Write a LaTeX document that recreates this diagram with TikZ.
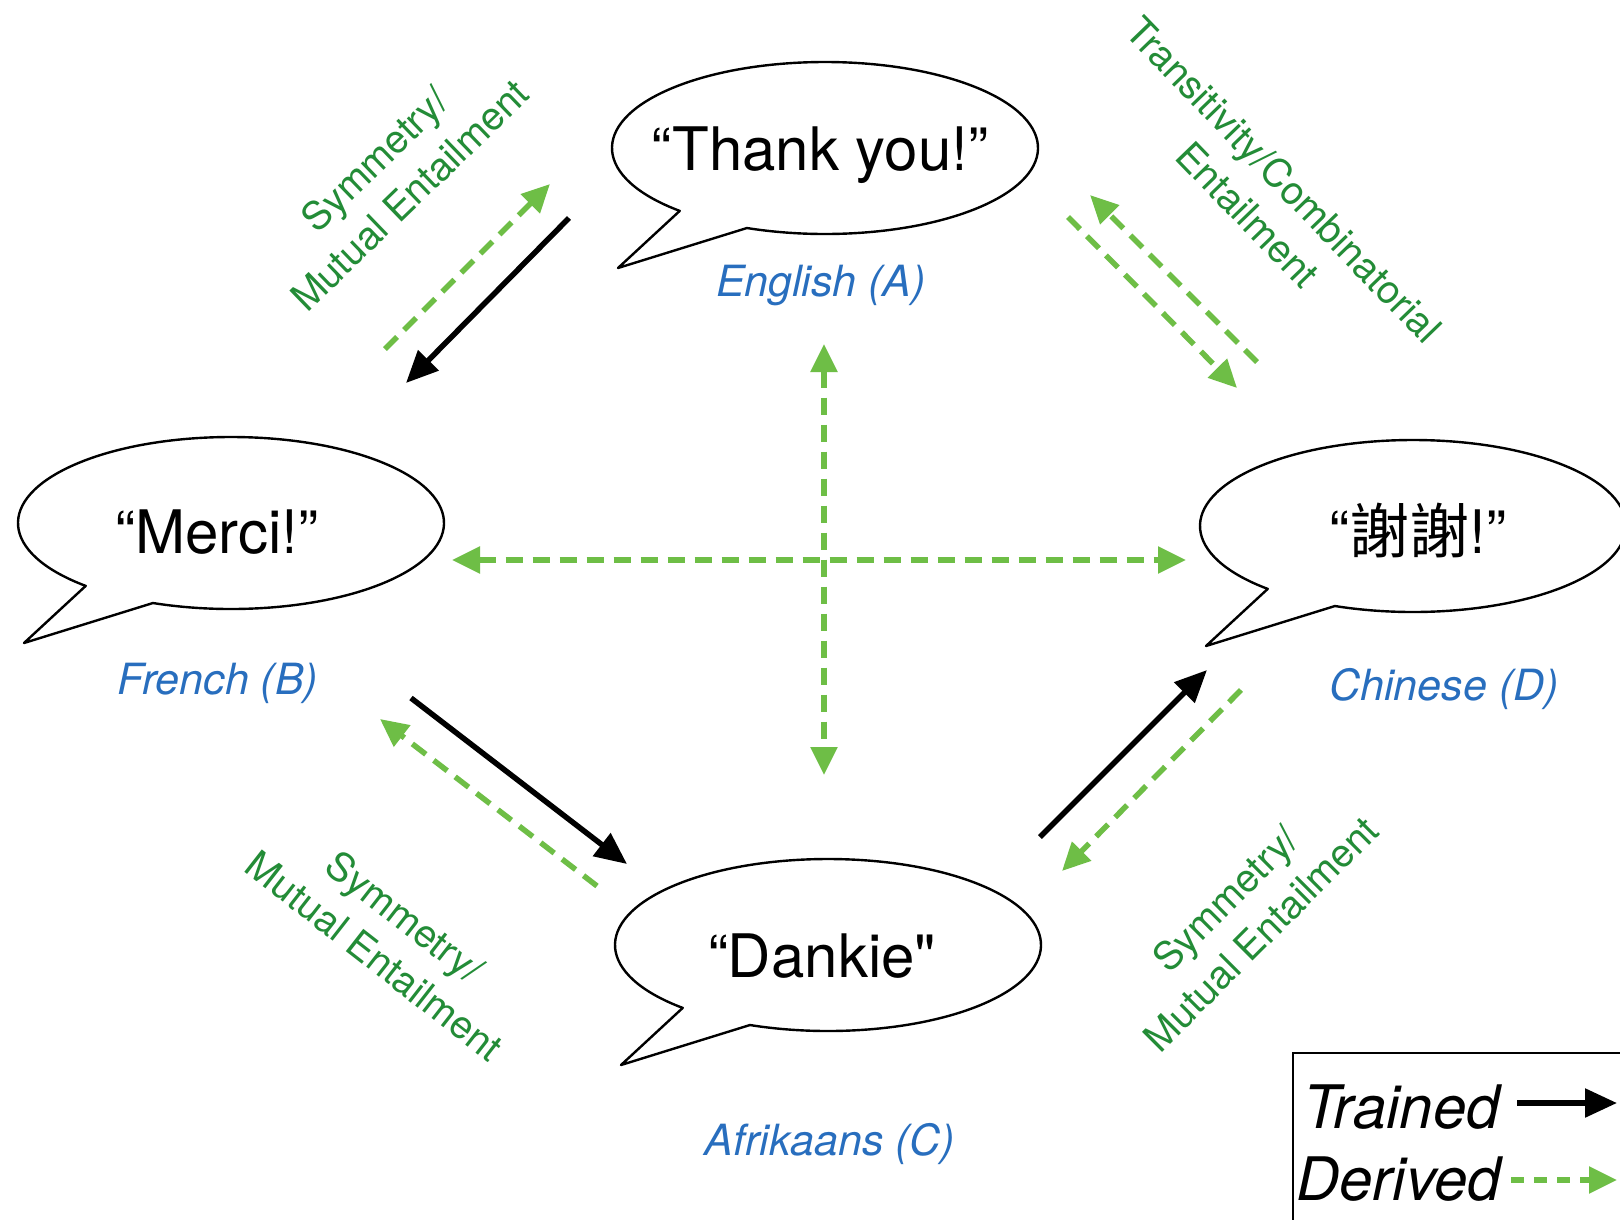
\documentclass[tikz,border=0pt]{standalone}
\usepackage{fontspec}
\setmainfont{TeX Gyre Heros}
\newfontfamily\cjkfont{Noto Sans CJK TC}
\usetikzlibrary{arrows.meta}
\definecolor{labelblue}{RGB}{40,110,190}
\definecolor{rulegreen}{RGB}{35,140,55}
\definecolor{derivedgreen}{RGB}{110,190,70}
\newcommand{\straightquote}{{\addfontfeature{Ligatures=TeXOff}"}}

\begin{document}
\begin{tikzpicture}[x=1pt,y=-1pt,
  bubbleline/.style={line width=2.4pt, line join=round, fill=white},
  phrase/.style={font=\fontsize{60}{62}\selectfont, inner sep=0pt, anchor=base},
  lang/.style={font=\fontsize{43}{46}\selectfont\itshape, text=labelblue, inner sep=0pt},
  rulelabel/.style={font=\fontsize{39}{50}\selectfont, text=rulegreen, align=center, inner sep=0pt},
  trained/.style={line width=5.5pt, -{Triangle[length=32pt,width=28pt]}},
  derived/.style={line width=5.5pt, derivedgreen, dash pattern=on 17pt off 10pt, -{Triangle[length=28pt,width=26pt]}},
  derivedboth/.style={derived, {Triangle[length=28pt,width=26pt]}-{Triangle[length=28pt,width=26pt]}},
  legendtext/.style={font=\fontsize{60}{62}\selectfont\itshape, inner sep=0pt, anchor=base west},
  bubble/.pic={\draw[bubbleline] (-207,120) -- ({213*cos(133)},{86*sin(133)})
      arc[start angle=133, end angle=471.5, x radius=213, y radius=86] -- cycle;}
]
\fill[white] (0,0) rectangle (1620,1219);
\clip (0,0) rectangle (1620,1219);

% speech bubbles
\pic at (825,148) {bubble};
\pic at (231,523) {bubble};
\pic at (1413,526) {bubble};
\pic at (828,945) {bubble};

% phrases
\node[phrase] (thanks) at (820,170) {“Thank you!”};
\node[phrase] (merci) at (217,553) {“Merci!”};
\node[phrase] (xiexie) at (1418,553) {“{\cjkfont 謝謝}!”};
\node[phrase] (dankie) at (822,977) {“Dankie\straightquote};

% languages
\node[lang] (english) at (821,286) {English (A)};
\node[lang] (french) at (218,683) {French (B)};
\node[lang] (chinese) at (1444,689) {Chinese (D)};
\node[lang] (afrikaans) at (830,1144) {Afrikaans (C)};

% relation names
\node[rulelabel, rotate=44] (symAB) at (392,177) {Symmetry/\\Mutual Entailment};
\node[rulelabel, rotate=-46] (transAD) at (1266,197) {Transitivity/Combinatorial\\Entailment};
\node[rulelabel, rotate=-38] (symBC) at (390,936) {Symmetry/\\Mutual Entailment};
\node[rulelabel, rotate=45] (symCD) at (1243,916) {Symmetry/\\Mutual Entailment};

% end points of the relations
\coordinate (abT0) at (569,218);  \coordinate (abT1) at (406,383);
\coordinate (abD0) at (385,349);  \coordinate (abD1) at (550,184);
\coordinate (bcT0) at (411,698);  \coordinate (bcT1) at (627,864);
\coordinate (bcD0) at (597,886);  \coordinate (bcD1) at (380,719);
\coordinate (cdT0) at (1040,837); \coordinate (cdT1) at (1207,670);
\coordinate (cdD0) at (1241,690); \coordinate (cdD1) at (1062,871);
\coordinate (adD0) at (1068,217); \coordinate (adD1) at (1237,388);
\coordinate (daD0) at (1257,362); \coordinate (daD1) at (1090,195);
\coordinate (acTop) at (824,344); \coordinate (acBot) at (824,775);
\coordinate (bdLeft) at (452,560); \coordinate (bdRight) at (1186,560);

% trained relations
\draw[trained] (abT0) -- (abT1);
\draw[trained] (bcT0) -- (bcT1);
\draw[trained] (cdT0) -- (cdT1);

% derived relations
\draw[derived] (abD0) -- (abD1);
\draw[derived] (bcD0) -- (bcD1);
\draw[derived] (cdD0) -- (cdD1);
\draw[derived] (adD0) -- (adD1);
\draw[derived] (daD0) -- (daD1);
\draw[derivedboth] (acTop) -- (acBot);
\draw[derivedboth] (bdLeft) -- (bdRight);

% legend
\draw[line width=2.5pt] (1293,1053) rectangle (1650,1250);
\node[legendtext] (trainedkey) at (1303,1128) {Trained};
\node[legendtext] (derivedkey) at (1296,1200) {Derived};
\coordinate (tk0) at (1517,1103); \coordinate (tk1) at (1617,1103);
\coordinate (dk0) at (1511,1180); \coordinate (dk1) at (1617,1180);
\draw[trained] (tk0) -- (tk1);
\draw[derived, dash pattern=on 13pt off 10pt] (dk0) -- (dk1);
\end{tikzpicture}
\end{document}
